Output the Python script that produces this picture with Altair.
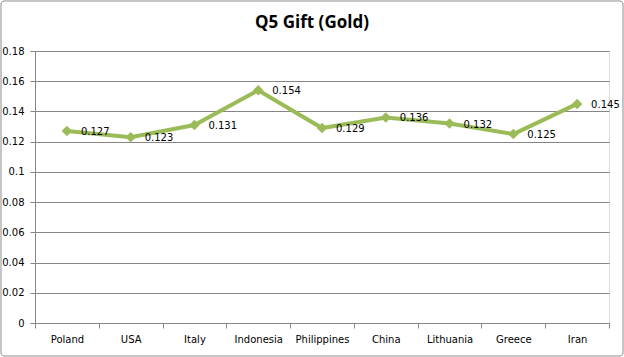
import altair as alt
import pandas as pd

countries = ["Poland", "USA", "Italy", "Indonesia", "Philippines", "China", "Lithuania", "Greece", "Iran"]
values = [0.127, 0.123, 0.131, 0.154, 0.129, 0.136, 0.132, 0.125, 0.145]
y_ticks = [0, 0.02, 0.04, 0.06, 0.08, 0.1, 0.12, 0.14, 0.16, 0.18]
title_text = ["Q5 Gift (Gold)"]

df = pd.DataFrame({"country": countries, "value": values})

x = alt.X("country:N", sort=countries, title=None,
          scale=alt.Scale(paddingInner=0, paddingOuter=0),
          axis=alt.Axis(labelAngle=0, tickBand="extent", labelPadding=6,
                        labelFont="DejaVu Sans", labelFontSize=10, labelColor="#000000",
                        domainColor="#868686", tickColor="#868686", tickSize=5))
y = alt.Y("value:Q", title=None,
          scale=alt.Scale(domain=[0, 0.18], nice=False),
          axis=alt.Axis(values=y_ticks, format="~g", labelFont="DejaVu Sans", labelFontSize=10,
                        labelColor="#000000", labelPadding=6, grid=True, gridColor="#868686",
                        domainColor="#868686", tickColor="#868686", tickSize=5))

base = alt.Chart(df)
line = base.mark_line(color="#9BBB59", strokeWidth=4).encode(x=x, y=y)
pts = base.mark_point(shape="diamond", filled=True, color="#9BBB59", size=110, opacity=1).encode(x=x, y=y)
labels = base.mark_text(align="left", baseline="middle", dx=14, dy=1, font="DejaVu Sans",
                        fontSize=10, color="#000000").encode(x=x, y=y, text=alt.Text("value:Q", format=".3f"))

tdf = pd.DataFrame({"t": title_text})
title = alt.Chart(tdf).mark_text(font="Open Sans", fontSize=17, fontWeight="bold", color="#000000",
                                 align="center", baseline="middle").encode(
    x=alt.value(277), y=alt.value(-28), text="t:N")
frame = alt.Chart(pd.DataFrame({"a": [0]})).mark_rect(
    fill=None, stroke="#8C8C8C", strokeWidth=1, cornerRadius=3
).encode(x=alt.value(-34), x2=alt.value(588), y=alt.value(-50), y2=alt.value(305))

chart = alt.layer(line, pts, labels, title, frame).properties(
    width=574, height=272,
    autosize=alt.AutoSizeParams(type="none"),
    padding={"left": 35, "top": 51, "right": 15, "bottom": 34},
).configure_view(fill="#EFF1E8", stroke=None).configure(background="#FFFFFF")

chart.save("out.html", embed_options={"renderer": "svg", "actions": False})
